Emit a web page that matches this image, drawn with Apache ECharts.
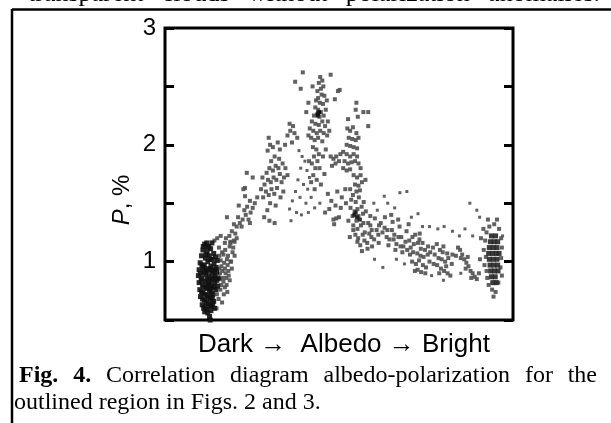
<!DOCTYPE html>
<html>
<head>
<meta charset="utf-8">
<script src="https://cdn.jsdelivr.net/npm/echarts@6.0.0/dist/echarts.min.js"></script>
<style>
html,body{margin:0;padding:0;background:#fff;}
#chart{width:611px;height:423px;}
</style>
</head>
<body>
<div id="chart"></div>
<script>
// ---- axis settings / labels ----
var yTickLabels = [1, 2, 3];
var xAxisTitle = 'Dark \u2192  Albedo \u2192 Bright';
var topWords = [['transparent', false], ['clouds', false], ['without', false], ['polarization', false], ['anomalies.', false]];
var captionLine1 = [['Fig.', true], ['4.', true], ['Correlation', false], ['diagram', false], ['albedo-polarization', false], ['for', false], ['the', false]];
var captionLine2 = 'outlined region in Figs. 2 and 3.';

// ---- data (x: relative albedo 0..100, y: P %) ----
var leftCore = [
[11.4,1.15],[12.6,1.13],[13.5,1.16],[10.9,1.10],[12.1,1.08],[13.1,1.11],[14.0,1.07],[10.5,1.05],
[11.6,1.03],[12.7,1.05],[13.6,1.02],[14.5,1.04],[10.1,0.99],[11.3,0.97],[12.3,1.00],[13.2,0.96],
[14.1,0.98],[15.0,1.01],[9.8,0.93],[10.9,0.95],[11.9,0.91],[12.9,0.94],[13.8,0.92],[14.7,0.95],
[9.6,0.88],[10.6,0.86],[11.7,0.89],[12.6,0.87],[13.5,0.85],[14.4,0.88],[15.3,0.86],[9.8,0.82],
[10.8,0.80],[11.6,0.83],[12.5,0.81],[13.4,0.79],[14.3,0.82],[15.1,0.79],[10.0,0.76],[10.9,0.73],
[11.9,0.77],[12.8,0.75],[13.7,0.72],[14.6,0.76],[10.2,0.70],[11.3,0.67],[12.2,0.71],[13.1,0.68],
[14.0,0.66],[10.7,0.63],[11.6,0.61],[12.5,0.64],[13.4,0.62],[14.2,0.60],[11.4,0.57],[12.3,0.56],
[13.2,0.58],[12.8,0.53],[13.0,0.50],
[11.0,1.13],[12.0,1.16],[11.8,1.06],[10.6,0.97],[11.5,0.94],[12.4,0.93],[13.4,0.90],[14.2,0.93],
[10.2,0.90],[11.1,0.91],[12.1,0.85],[13.0,0.83],[13.9,0.86],[10.4,0.84],[11.2,0.78],[12.2,0.79],
[13.1,0.77],[14.0,0.78],[10.5,0.74],[11.5,0.72],[12.4,0.69],[13.3,0.73],[10.8,0.68],[11.9,0.65],
[12.9,0.62],[13.7,0.64],[11.1,0.60],[12.0,0.59],[13.6,0.69],[14.8,0.91],[14.9,0.84],[13.0,1.02],[12.2,1.12]
];
var leftFringe = [
[15.5,1.12],[16.4,1.08],[17.3,1.10],[18.1,1.05],[16.0,1.01],[17.0,0.99],[18.0,0.97],[19.0,1.0],
[15.6,0.94],[16.5,0.92],[17.4,0.90],[18.3,0.88],[15.8,0.85],[16.8,0.83],[17.7,0.80],[15.9,0.76],
[16.9,0.72],[15.4,0.68],[16.4,0.65],[14.8,0.60],[17.2,1.16],[18.6,1.13],[19.4,1.08],[14.9,0.72],
[17.9,0.74],[15.0,1.2],[16.0,1.22],[14.2,1.18],
[18.8,1.16],[19.6,1.12],[20.0,1.05],[19.2,0.94],[18.6,0.84],[17.2,0.78],[16.2,0.80],[15.6,1.05],
[16.8,1.06],[17.8,1.02],[18.8,1.0],[16.2,0.96],[17.2,0.94],[18.2,0.92],[15.8,0.90],[16.6,0.86],
[17.6,0.86],[19.8,1.18],[20.6,1.2]
];
var risingBranch = [
[17.5,1.2],[18.5,1.22],[19.2,1.26],[20.2,1.24],[18.8,1.17],[20.6,1.3],[21.5,1.33],[22.3,1.36],
[21.0,1.38],[23.2,1.40],[24.0,1.36],[22.8,1.44],[24.6,1.42],[23.6,1.47],[25.2,1.46],[24.4,1.52],
[25.8,1.5],[23.0,1.56],[22.0,1.30],[19.8,1.32],[26.5,1.55],[22.5,1.62],[25.2,1.72],[21.2,1.48],
[20.0,1.17],[23.5,1.76],[23.0,1.63],[17.8,1.38],[24.4,1.33]
];
var leftPeak = [
[28.2,1.55],[29.0,1.6],[29.8,1.57],[30.6,1.62],[31.4,1.58],[32.2,1.63],[28.6,1.66],[29.6,1.7],
[30.4,1.68],[31.2,1.72],[32.0,1.7],[33.0,1.75],[29.2,1.76],[30.0,1.8],[31.0,1.78],[31.8,1.82],
[32.6,1.8],[33.5,1.68],[34.2,1.72],[33.8,1.84],[30.5,1.86],[31.5,1.9],[32.8,1.88],[34.6,1.8],
[35.2,1.74],[28.0,1.72],[27.6,1.62],[30.2,1.5],[31.8,1.48],[29.4,1.44],[33.2,1.55],[34.0,1.6],
[28.5,1.38],[30.0,1.35],[31.5,1.33],
[29.5,1.95],[30.2,2.0],[29.8,2.06],[31.0,1.98],[35.2,2.08],[36.0,2.12],[36.8,2.16],[37.2,2.1],
[35.8,2.18],[36.5,2.02],[34.5,2.0],[38.0,2.06],[33.0,1.96],[32.4,2.02]
];
var midGap = [
[38.5,1.95],[39.4,1.9],[40.2,1.86],[39.0,1.8],[40.8,1.78],[41.5,1.72],[38.2,1.7],[39.8,1.66],
[41.0,1.62],[37.5,1.6],[38.8,1.55],[40.5,1.5],[42.0,1.55],[36.6,1.52],[35.8,1.45],[37.8,1.42],
[39.2,1.4],[41.2,1.42],[43.0,1.46],[44.5,1.5],[36.2,1.35]
];
var mainPeak = [
[44.6,2.58],[45.2,2.55],[44.2,2.53],[45.5,2.5],[44.8,2.48],[43.8,2.46],[45.0,2.43],[44.0,2.4],
[45.8,2.42],[43.4,2.38],[44.5,2.36],[45.4,2.35],[43.2,2.32],[44.0,2.3],[44.8,2.28],[43.6,2.26],
[44.4,2.24],[45.6,2.25],[46.2,2.3],[42.8,2.25],[42.2,2.2],[43.2,2.18],[44.2,2.17],[45.2,2.2],
[46.0,2.16],[46.8,2.2],[41.6,2.14],[42.6,2.12],[43.6,2.1],[44.6,2.12],[45.6,2.1],[46.6,2.08],
[42.0,2.06],[43.0,2.04],[44.0,2.06],[45.2,2.03],[47.2,2.12],[41.2,2.08],
[42.5,1.98],[43.5,1.96],[44.2,1.92],[42.8,1.9],[43.8,1.86],[42.2,1.84],[43.2,1.8],[44.4,1.8],
[42.6,1.74],[43.6,1.7],[42.0,1.68],[44.8,1.66],[43.0,1.62],[41.4,1.86],[45.4,1.9],[46.2,1.96],
[45.8,1.75],
[39.6,2.62],[37.4,2.54],[39.0,2.48],[42.4,2.5],[50.2,2.47],[47.6,2.6],[46.5,2.38],[41.2,2.36],[40.6,2.28]
];
var mainPeakCore = [[44.0,2.27],[44.3,2.28],[43.9,2.25]];
var rightPeak = [
[55.0,2.36],[58.4,2.28],[58.4,2.16],[54.8,2.3],[55.4,2.24],
[52.4,2.14],[53.2,2.12],[54.0,2.15],[55.0,2.1],[52.8,2.06],[53.8,2.05],[54.8,2.04],[55.6,2.06],
[53.2,1.99],[54.2,1.98],[55.2,1.97],[52.2,2.0],
[51.2,1.94],[52.2,1.92],[53.2,1.9],[54.2,1.92],[55.2,1.9],[51.6,1.86],[52.6,1.84],[53.6,1.85],
[54.6,1.86],[55.6,1.84],[51.2,1.8],[52.2,1.78],[53.2,1.79],[56.2,1.8],
[47.6,1.9],[48.4,1.88],[49.2,1.9],[50.0,1.86],[48.0,1.82],[49.0,1.84],[50.4,1.92],
[54.2,1.74],[55.2,1.72],[56.2,1.74],[54.6,1.66],[55.6,1.65],[56.6,1.68],[55.0,1.6],[56.0,1.61],[57.6,1.7],
[46.8,1.58],[47.8,1.52],[49.5,1.6],[50.8,1.55],[51.8,1.62],[47.2,1.45],[50.5,1.46],[52.0,1.5],
[46.0,1.42],[49.0,1.48],[49.7,2.46],[48.8,2.39],[52.6,2.22],[57.0,2.28]
];
var descent = [
[53.2,1.62],[54.0,1.57],[53.5,1.53],[54.8,1.51],[55.7,1.55],[53.3,1.46],[54.5,1.43],[55.3,1.45],
[56.5,1.47],[57.1,1.51],[53.9,1.39],[55.0,1.35],[55.6,1.39],[56.9,1.41],[57.7,1.43],[59.0,1.39],
[54.1,1.31],[55.3,1.28],[56.3,1.31],[57.0,1.33],[58.4,1.33],[59.0,1.31],[60.3,1.37],[54.7,1.23],
[55.5,1.20],[56.8,1.23],[57.4,1.25],[58.7,1.24],[59.4,1.27],[60.8,1.27],[61.5,1.31],[55.3,1.17],
[56.1,1.14],[57.3,1.18],[58.1,1.16],[59.3,1.21],[60.1,1.19],[61.3,1.23],[58.2,1.11],[59.5,1.13],
[56.6,1.09],[54.1,1.27],[52.7,1.35],[53.1,1.21],
[48.4,1.36],[48.6,1.32],[49.2,1.37],[50.0,1.38]
];
var descentCore = [[54.4,1.40],[55.2,1.38],[54.8,1.42],[56.0,1.36]];
var tail = [
[62.0,1.33],[63.1,1.29],[63.9,1.27],[65.2,1.27],[65.9,1.23],[67.1,1.21],[67.9,1.21],[69.1,1.17],
[62.5,1.25],[63.7,1.21],[64.5,1.19],[65.7,1.19],[66.5,1.15],[67.7,1.13],[68.5,1.13],[63.2,1.38],
[65.4,1.34],[67.4,1.3],[69.4,1.26],[64.2,1.14],[66.2,1.1],[68.2,1.08],[61.4,1.16],[65.0,1.4],
[70.0,1.32],[67.0,1.36]
];
var clusterA = [
[70.2,1.18],[71.1,1.21],[71.9,1.23],[73.1,1.19],[74.0,1.16],[70.6,1.12],[71.5,1.15],[72.7,1.16],
[73.5,1.11],[74.7,1.10],[75.6,1.13],[70.4,1.06],[71.3,1.08],[72.5,1.07],[73.4,1.05],[74.3,1.04],
[75.5,1.06],[76.2,1.08],[71.0,1.0],[72.1,0.98],[73.0,1.01],[74.1,0.97],[75.0,0.95],[72.6,0.93],
[73.6,0.91],[71.8,0.92],[74.8,0.9],[73.2,1.24],[76.0,1.0],[69.6,1.1]
];
var clusterB = [
[77.0,1.12],[78.1,1.15],[79.0,1.1],[80.0,1.13],[81.1,1.07],[77.5,1.06],[78.6,1.03],[79.5,1.02],
[80.5,1.0],[81.4,1.03],[82.4,0.98],[78.2,0.97],[79.3,0.94],[80.2,0.92],[81.2,0.9],[82.0,0.88],
[77.2,0.98],[79.8,1.08],[80.8,0.96],[78.8,0.9],[82.6,1.06]
];
var streak = [
[84.2,1.12],[84.8,1.1],[85.4,1.06],[86.0,1.02],[86.6,0.99],[87.2,0.96],[87.8,0.92],[88.4,0.9],
[89.0,0.87],[89.6,0.85],[85.0,1.03],[86.4,0.94],[88.0,0.86],[83.6,1.05],[90.2,0.9],[87.0,1.04]
];
var rightCore = [
[93.8,1.22],[95.0,1.22],[93.5,1.17],[94.6,1.17],[95.6,1.17],[93.2,1.12],[94.3,1.12],[95.4,1.12],
[93.0,1.07],[94.1,1.07],[95.2,1.07],[96.0,1.07],[93.2,1.02],[94.3,1.02],[95.4,1.02],[93.4,0.97],
[94.5,0.97],[95.6,0.97],[93.6,0.92],[94.7,0.92],[95.7,0.92],[93.8,0.87],[94.9,0.87],[94.2,0.82],[95.2,0.82]
];
var rightFringe = [
[91.5,1.28],[92.4,1.25],[93.2,1.3],[94.6,1.32],[96.0,1.28],[96.6,1.2],[92.0,1.18],[91.6,1.1],
[92.2,1.04],[91.8,0.97],[92.4,0.92],[92.6,0.86],[96.8,1.12],[96.6,1.03],[96.4,0.95],[96.8,0.88],
[93.0,0.8],[95.8,0.82],[94.0,0.76],[95.0,0.74],[94.4,0.70],[92.8,1.36],[95.4,1.36],[90.8,1.2],[90.5,1.02]
];
var sparse = [
[67.5,1.59],[69.5,1.6],[72.7,1.41],[87.6,1.5],[89.6,1.44],[62.6,0.95],[76.0,1.3],[78.4,1.28],
[80.2,1.3],[82.6,1.26],[84.6,1.22],[86.2,1.28],[88.4,1.22],[74.0,1.3],[70.8,1.38],[66.0,1.46],
[64.0,1.5],[63.0,1.56],[60.0,1.5],[61.0,1.44],[90.4,1.38],[97.0,1.22],[76.6,0.88],[80.0,0.84],
[85.0,0.9],[66.5,1.02],[68.8,0.98],[60.2,1.02]
];

var GREY = '#505050';
function sc(data, color, size) {
  return {
    type: 'scatter', data: data, symbol: 'rect', symbolSize: size,
    itemStyle: { color: color, opacity: 0.9 }, silent: true, animation: false
  };
}

var chart = echarts.init(document.getElementById('chart'), null, { renderer: 'canvas' });

// text justification helper (layout only)
var measureCtx = document.createElement('canvas').getContext('2d');
function justify(words, fontSize, family, x0, x1, y) {
  var widths = words.map(function (w) {
    measureCtx.font = (w[1] ? 'bold ' : '') + fontSize + 'px "' + family + '"';
    return measureCtx.measureText(w[0]).width;
  });
  var total = widths.reduce(function (a, b) { return a + b; }, 0);
  var gap = (x1 - x0 - total) / (words.length - 1);
  var x = x0, out = [];
  words.forEach(function (w, i) {
    out.push({
      type: 'text', x: x, y: y, silent: true,
      style: { text: w[0], fontSize: fontSize, fontFamily: family, fontWeight: w[1] ? 'bold' : 'normal',
               fill: '#000', align: 'left', verticalAlign: 'middle' }
    });
    x += widths[i] + gap;
  });
  return out;
}

var SERIF = 'Liberation Serif';
var SANS = 'Liberation Sans';
var graphics = [
  { type: 'line', silent: true, shape: { x1: 12, y1: 9.5, x2: 611, y2: 9.5 }, style: { stroke: '#000', lineWidth: 2.5 } },
  { type: 'line', silent: true, shape: { x1: 12, y1: 9, x2: 12, y2: 423 }, style: { stroke: '#000', lineWidth: 2.5 } },
  { type: 'text', x: 122, y: 200, rotation: Math.PI / 2, silent: true,
    style: { text: '{i|P}, %', fontSize: 24, fontFamily: SANS, fill: '#000', align: 'center', verticalAlign: 'middle',
             rich: { i: { fontStyle: 'italic', fontSize: 24, fontFamily: SANS } } } },
  { type: 'text', x: 344, y: 345, silent: true,
    style: { text: xAxisTitle, fontSize: 26, fontFamily: SANS, fill: '#000', align: 'center', verticalAlign: 'middle' } },
  { type: 'text', x: 14, y: 403, silent: true,
    style: { text: captionLine2, fontSize: 24, fontFamily: SERIF, fill: '#000', align: 'left', verticalAlign: 'middle' } }
].concat(justify(captionLine1, 24, SERIF, 19, 597, 376))
 .concat(justify(topWords, 26, SERIF, 28, 600, -6));

var yCommon = {
  type: 'value', min: 0.5, max: 3, interval: 0.5,
  axisLine: { show: false }, splitLine: { show: false },
  axisTick: { show: true, inside: true, length: 9, lineStyle: { color: '#000', width: 3 } }
};

chart.setOption({
  animation: false,
  backgroundColor: '#fff',
  grid: { left: 165, right: 98, top: 28, bottom: 103, show: true, borderColor: '#000', borderWidth: 3, backgroundColor: 'transparent' },
  xAxis: { type: 'value', min: 0, max: 100, axisLine: { show: false }, axisTick: { show: false },
           axisLabel: { show: false }, splitLine: { show: false } },
  yAxis: [
    Object.assign({}, yCommon, { position: 'left',
      axisLabel: { show: true, margin: 9, fontSize: 24, fontFamily: SANS, color: '#000',
        formatter: function (v) { return yTickLabels.indexOf(v) >= 0 ? String(v) : ''; } } }),
    Object.assign({}, yCommon, { position: 'right', axisLabel: { show: false } })
  ],
  series: [
    sc(leftFringe, GREY, 4), sc(risingBranch, GREY, 4), sc(leftPeak, GREY, 4), sc(midGap, GREY, 3),
    sc(mainPeak, GREY, 4), sc(rightPeak, GREY, 4), sc(descent, GREY, 4), sc(tail, GREY, 4),
    sc(clusterA, GREY, 4), sc(clusterB, GREY, 4), sc(streak, GREY, 4), sc(rightFringe, GREY, 4),
    sc(sparse, GREY, 3), sc(rightCore, '#262626', 5), sc(mainPeakCore, '#111', 4),
    sc(descentCore, '#1a1a1a', 4), sc(leftCore, '#111', 5)
  ],
  graphic: graphics
});
</script>
</body>
</html>
